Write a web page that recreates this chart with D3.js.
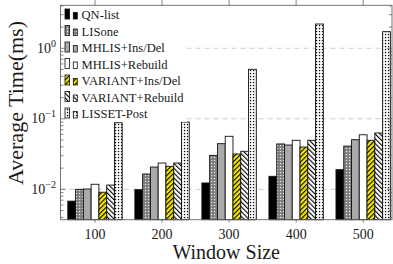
<!DOCTYPE html>
<html>
<head>
<meta charset="utf-8">
<script src="https://cdn.jsdelivr.net/npm/d3@7"></script>
<style>
  html, body { margin: 0; padding: 0; background: #fff; }
  #chart { width: 393px; height: 264px; }
</style>
</head>
<body>
<div id="chart"></div>
<script>
// values (ms, log axis)
const categories = [100, 200, 300, 400, 500];
const seriesNames = ["QN-list", "LISone", "MHLIS+Ins/Del", "MHLIS+Rebuild",
                     "VARIANT+Ins/Del", "VARIANT+Rebuild", "LISSET-Post"];
const qnList         = [0.0068, 0.0099, 0.0123, 0.0153, 0.019];
const liSone         = [0.0100, 0.0165, 0.0303, 0.0440, 0.041];
const mhlisInsDel    = [0.0101, 0.0207, 0.0444, 0.0425, 0.0506];
const mhlisRebuild   = [0.0118, 0.0236, 0.0565, 0.0496, 0.0594];
const variantInsDel  = [0.0091, 0.0212, 0.0317, 0.0398, 0.0496];
const variantRebuild = [0.0115, 0.0236, 0.0346, 0.0496, 0.063];
const lissetPost     = [0.088, 0.090, 0.503, 2.21, 1.72];
const yTickExps = [0, -1, -2];

const seriesValues = [qnList, liSone, mhlisInsDel, mhlisRebuild,
                      variantInsDel, variantRebuild, lissetPost];
const fills = ["#000", "url(#grayDots)", "#aaaaaa", "#fff",
               "url(#yellowLines)", "url(#whiteLines)", "url(#whiteDots)"];

const FONT = "'Liberation Serif', 'DejaVu Serif', 'Times New Roman', Times, serif";
const fullW = 393, fullH = 264;
const plot = { left: 60.5, right: 392, top: 5.3, bottom: 219.7 };

const svg = d3.select("#chart").append("svg")
    .attr("width", fullW)
    .attr("height", fullH)
    .style("font-family", FONT);

// fill patterns
const defs = svg.append("defs");
function dotPattern(id, bg, dot) {
  const p = defs.append("pattern").attr("id", id)
    .attr("patternUnits", "userSpaceOnUse").attr("width", 3).attr("height", 3);
  p.append("rect").attr("width", 3).attr("height", 3).attr("fill", bg);
  p.append("rect").attr("x", 0.9).attr("y", 0.9).attr("width", 1.3).attr("height", 1.3).attr("fill", dot);
}
function linePattern(id, bg, angle) {
  const p = defs.append("pattern").attr("id", id)
    .attr("patternUnits", "userSpaceOnUse").attr("width", 3.4).attr("height", 3.4)
    .attr("patternTransform", `rotate(${angle})`);
  p.append("rect").attr("width", 3.4).attr("height", 3.4).attr("fill", bg);
  p.append("line").attr("x1", 0).attr("y1", 0).attr("x2", 0).attr("y2", 3.4)
    .attr("stroke", "#000").attr("stroke-width", 2.2);
}
dotPattern("grayDots", "#7a7a7a", "#e8e8e8");
dotPattern("whiteDots", "#fff", "#000");
linePattern("yellowLines", "#f7e600", 45);
linePattern("whiteLines", "#fff", -45);

const x = d3.scaleLinear()
    .domain([48.5, 543])
    .range([plot.left, plot.right]);

const inner = d3.scaleBand()
    .domain(seriesNames)
    .range([-27.2, 27.2]);

const y = d3.scaleLog()
    .domain([0.00371, 4.07])
    .range([plot.bottom, plot.top]);

// dashed grid at decades
svg.append("g")
  .selectAll("line")
  .data(yTickExps)
  .enter()
  .append("line")
  .attr("x1", plot.left).attr("x2", plot.right)
  .attr("y1", d => y(Math.pow(10, d))).attr("y2", d => y(Math.pow(10, d)))
  .attr("stroke", "#c8c8c8")
  .attr("stroke-width", 0.9)
  .attr("stroke-dasharray", "5,4");

// bars
seriesNames.forEach((name, si) => {
  svg.append("g")
    .selectAll("rect")
    .data(categories.map((c, i) => ({ c, v: seriesValues[si][i] })))
    .enter()
    .append("rect")
    .attr("x", d => x(d.c) + inner(name))
    .attr("y", d => y(d.v))
    .attr("width", inner.bandwidth())
    .attr("height", d => plot.bottom - y(d.v))
    .attr("fill", fills[si])
    .attr("stroke", "#111")
    .attr("stroke-width", 0.9);
});

// legend (white box over plot)
const leg = svg.append("g");
leg.append("rect")
  .attr("x", plot.left + 0.5).attr("y", plot.top + 0.5)
  .attr("width", 126).attr("height", 116)
  .attr("fill", "#fff");
seriesNames.forEach((name, i) => {
  const cy = 15 + i * 16.5;
  leg.append("rect")
    .attr("x", 65).attr("y", cy - 6).attr("width", 4.6).attr("height", 10)
    .attr("fill", fills[i]).attr("stroke", "#111").attr("stroke-width", 0.8);
  leg.append("rect")
    .attr("x", 73.3).attr("y", cy - 2.5).attr("width", 4).attr("height", 6.5)
    .attr("fill", fills[i]).attr("stroke", "#111").attr("stroke-width", 0.8);
  leg.append("text")
    .attr("x", 81.5).attr("y", cy + 4)
    .attr("fill", "#1a1a1a")
    .style("font-size", "12.6px")
    .text(name);
});

// frame
svg.append("rect")
  .attr("x", plot.left).attr("y", plot.top)
  .attr("width", plot.right - plot.left)
  .attr("height", plot.bottom - plot.top)
  .attr("fill", "none")
  .attr("stroke", "#666")
  .attr("stroke-width", 0.9);

// x ticks top and bottom
const xt = svg.append("g");
categories.forEach(c => {
  xt.append("line").attr("x1", x(c)).attr("x2", x(c))
    .attr("y1", 0).attr("y2", plot.top).attr("stroke", "#666").attr("stroke-width", 0.8);
  xt.append("line").attr("x1", x(c)).attr("x2", x(c))
    .attr("y1", plot.bottom).attr("y2", plot.bottom + 3).attr("stroke", "#666").attr("stroke-width", 0.8);
  xt.append("text")
    .attr("x", x(c)).attr("y", 239)
    .attr("text-anchor", "middle")
    .attr("fill", "#1a1a1a")
    .style("font-size", "14px")
    .text(c);
});

// y minor / major ticks on both sides
const minor = [];
for (let e = -3; e <= 0; e++) {
  for (let m = 1; m <= 9; m++) {
    const v = m * Math.pow(10, e);
    if (v >= y.domain()[0] && v <= y.domain()[1]) minor.push({ v, major: m === 1 });
  }
}
const yt = svg.append("g");
minor.forEach(d => {
  const len = d.major ? 5 : 3;
  yt.append("line").attr("x1", plot.left).attr("x2", plot.left + len)
    .attr("y1", y(d.v)).attr("y2", y(d.v)).attr("stroke", "#666").attr("stroke-width", 0.8);
  yt.append("line").attr("x1", plot.right - len).attr("x2", plot.right)
    .attr("y1", y(d.v)).attr("y2", y(d.v)).attr("stroke", "#666").attr("stroke-width", 0.8);
});

yTickExps.forEach(e => {
  const t = svg.append("text")
    .attr("x", 56).attr("y", y(Math.pow(10, e)) + 4.5)
    .attr("text-anchor", "end")
    .attr("fill", "#1a1a1a")
    .style("font-size", "14px");
  t.append("tspan").text("10");
  t.append("tspan")
    .attr("dy", -6)
    .style("font-size", "10px")
    .text(e < 0 ? "\u2212" + Math.abs(e) : String(e));
});

// axis labels
svg.append("text")
  .attr("x", (plot.left + plot.right) / 2)
  .attr("y", 259)
  .attr("text-anchor", "middle")
  .attr("fill", "#1a1a1a")
  .style("font-size", "20px")
  .text("Window Size");

svg.append("text")
  .attr("transform", "rotate(-90)")
  .attr("x", -103)
  .attr("y", 22.5)
  .attr("text-anchor", "middle")
  .attr("fill", "#1a1a1a")
  .style("font-size", "22px")
  .text("Average Time(ms)");
</script>
</body>
</html>
